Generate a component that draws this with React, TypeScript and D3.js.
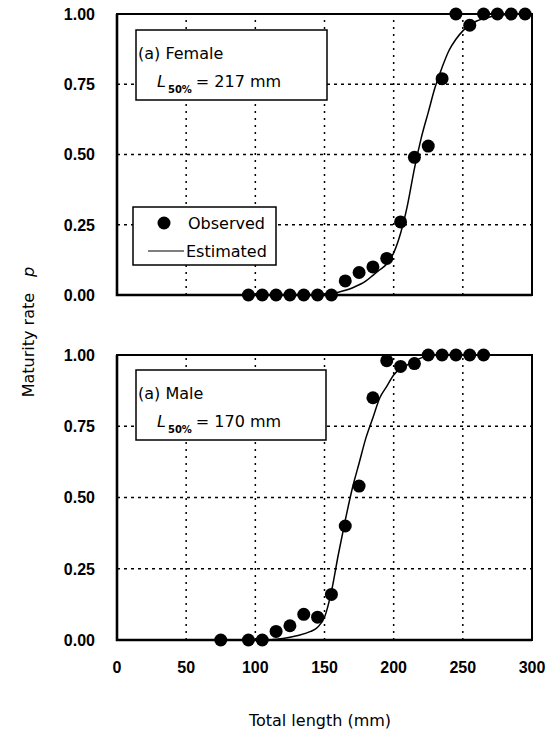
import React, { useRef, useEffect } from "react";
import * as d3 from "d3";

// tick labels
const lengthTicks = [0, 50, 100, 150, 200, 250, 300];
const rateTicks = [0, 0.25, 0.5, 0.75, 1];

// female: observed
const femaleLength = [95, 105, 115, 125, 135, 145, 155, 165, 175, 185, 195, 205, 215, 225, 235, 245, 255, 265, 275, 285, 295];
const femaleRate = [0, 0, 0, 0, 0, 0, 0, 0.05, 0.08, 0.1, 0.13, 0.26, 0.49, 0.53, 0.77, 1, 0.96, 1, 1, 1, 1];
// female: estimated curve
const femaleCurveLength = [150, 160, 170, 180, 185, 190, 195, 200, 205, 210, 215, 220, 225, 230, 235, 240, 245, 250, 255, 260, 270, 280, 290];
const femaleCurveRate = [0, 0.01, 0.025, 0.05, 0.07, 0.09, 0.11, 0.15, 0.22, 0.32, 0.45, 0.56, 0.65, 0.74, 0.81, 0.87, 0.91, 0.94, 0.96, 0.975, 0.99, 0.997, 1];

// male: observed
const maleLength = [75, 95, 105, 115, 125, 135, 145, 155, 165, 175, 185, 195, 205, 215, 225, 235, 245, 255, 265];
const maleRate = [0, 0, 0, 0.03, 0.05, 0.09, 0.08, 0.16, 0.4, 0.54, 0.85, 0.98, 0.96, 0.97, 1, 1, 1, 1, 1];
// male: estimated curve
const maleCurveLength = [110, 120, 130, 140, 145, 150, 155, 160, 165, 170, 175, 180, 185, 190, 195, 200, 210, 220, 230];
const maleCurveRate = [0, 0.005, 0.015, 0.03, 0.045, 0.08, 0.17, 0.3, 0.42, 0.53, 0.62, 0.71, 0.78, 0.85, 0.89, 0.93, 0.965, 0.99, 1];

const W = 557;
const H = 735;
const tickFont = "'Liberation Sans', Arial, sans-serif";
const textFont = "'DejaVu Sans', sans-serif";

export default function App() {
  const svgRef = useRef<SVGSVGElement>(null);

  useEffect(() => {
    const svg = d3.select(svgRef.current);
    svg.selectAll("*").remove();

    const x = d3.scaleLinear().domain([0, 300]).range([117, 532]);

    const panels = [
      {
        top: 14, bottom: 295, label: "(a) Female", l50: "217",
        len: femaleLength, rate: femaleRate, cLen: femaleCurveLength, cRate: femaleCurveRate,
        box: [136, 30, 327, 100], legend: true
      },
      {
        top: 355, bottom: 640, label: "(a) Male", l50: "170",
        len: maleLength, rate: maleRate, cLen: maleCurveLength, cRate: maleCurveRate,
        box: [136, 370, 326, 440], legend: false
      }
    ];

    panels.forEach((p) => {
      const y = d3.scaleLinear().domain([0, 1]).range([p.bottom, p.top]);
      const g = svg.append("g");

      // grid
      g.selectAll(".hgrid")
        .data(rateTicks.slice(1, -1))
        .enter()
        .append("line")
        .attr("x1", x(0)).attr("x2", x(300))
        .attr("y1", (d) => y(d)).attr("y2", (d) => y(d))
        .attr("stroke", "#000").attr("stroke-width", 1.5)
        .attr("stroke-dasharray", "3,4");
      g.selectAll(".vgrid")
        .data(lengthTicks.slice(1, -1))
        .enter()
        .append("line")
        .attr("x1", (d) => x(d)).attr("x2", (d) => x(d))
        .attr("y1", y(0)).attr("y2", y(1))
        .attr("stroke", "#000").attr("stroke-width", 1.5)
        .attr("stroke-dasharray", "2,5");

      // frame
      g.append("rect")
        .attr("x", x(0)).attr("y", y(1))
        .attr("width", x(300) - x(0)).attr("height", y(0) - y(1))
        .attr("fill", "none").attr("stroke", "#000").attr("stroke-width", 2);
      g.append("path")
        .attr("d", `M${x(0)},${y(1)}V${y(0)}H${x(300)}`)
        .attr("fill", "none").attr("stroke", "#000").attr("stroke-width", 2.6);

      // y tick labels
      g.selectAll(".ytl")
        .data(rateTicks)
        .enter()
        .append("text")
        .attr("x", 95).attr("y", (d) => y(d))
        .attr("dy", "0.36em")
        .attr("text-anchor", "end")
        .style("font-family", tickFont).style("font-size", "16px").style("font-weight", "bold")
        .text((d) => d3.format(".2f")(d));

      // box
      const [bx0, by0, bx1, by1] = p.box;
      g.append("rect")
        .attr("x", bx0).attr("y", by0).attr("width", bx1 - bx0).attr("height", by1 - by0)
        .attr("fill", "#fff").attr("stroke", "#000").attr("stroke-width", 1.5);
      g.append("text")
        .attr("x", bx0 + 2).attr("y", by0 + 29)
        .style("font-family", textFont).style("font-size", "16px")
        .text(p.label);
      const t = g.append("text")
        .attr("x", bx0 + 21).attr("y", by0 + 57)
        .style("font-family", textFont).style("font-size", "16px");
      t.append("tspan").style("font-style", "italic").text("L");
      t.append("tspan").attr("dx", 2).attr("dy", 6).style("font-size", "10px").style("font-weight", "bold").text("50%");
      t.append("tspan").attr("dx", 4).attr("dy", -6).text(`= ${p.l50} mm`);

      // estimated curve
      const line = d3.line<number>()
        .x((d, i) => x(p.cLen[i]))
        .y((d) => y(d))
        .curve(d3.curveMonotoneX);
      g.append("path")
        .attr("d", line(p.cRate))
        .attr("fill", "none").attr("stroke", "#000").attr("stroke-width", 1.5);

      // observed points
      g.selectAll(".pt")
        .data(p.rate)
        .enter()
        .append("circle")
        .attr("cx", (d, i) => x(p.len[i]))
        .attr("cy", (d) => y(d))
        .attr("r", 6.5)
        .attr("fill", "#000");

      if (p.legend) {
        g.append("rect")
          .attr("x", 133).attr("y", 207).attr("width", 143).attr("height", 58)
          .attr("fill", "#fff").attr("stroke", "#000").attr("stroke-width", 1.5);
        g.append("circle").attr("cx", 164).attr("cy", 223).attr("r", 6.5).attr("fill", "#000");
        g.append("text").attr("x", 188).attr("y", 229)
          .style("font-family", textFont).style("font-size", "16px").text("Observed");
        g.append("line").attr("x1", 148).attr("x2", 184).attr("y1", 251).attr("y2", 251)
          .attr("stroke", "#000").attr("stroke-width", 1.2);
        g.append("text").attr("x", 186).attr("y", 257)
          .style("font-family", textFont).style("font-size", "16px").text("Estimated");
      }
    });

    // x tick labels (bottom panel only)
    svg.selectAll(".xtl")
      .data(lengthTicks)
      .enter()
      .append("text")
      .attr("x", (d) => x(d)).attr("y", 673)
      .attr("text-anchor", "middle")
      .style("font-family", tickFont).style("font-size", "16px").style("font-weight", "bold")
      .text((d) => d);

    svg.append("text")
      .attr("x", 320).attr("y", 726)
      .attr("text-anchor", "middle")
      .style("font-family", textFont).style("font-size", "16px")
      .text("Total length (mm)");

    const yl = svg.append("text")
      .attr("transform", "translate(34,332) rotate(-90)")
      .attr("text-anchor", "middle")
      .style("font-family", textFont).style("font-size", "16px");
    yl.append("tspan").text("Maturity rate");
    yl.append("tspan").attr("dx", 16).style("font-style", "italic").text("p");
  }, []);

  return (
    <svg
      ref={svgRef}
      width={W}
      height={H}
      style={{ position: "absolute", left: 0, top: 0, background: "#fff" }}
    />
  );
}
